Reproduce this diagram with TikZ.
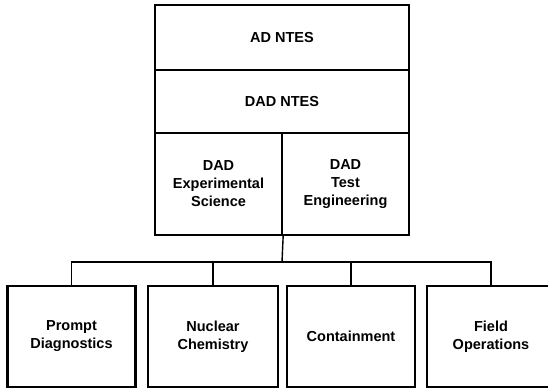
\documentclass[tikz,border=0pt]{standalone}
\usepackage{fontspec}
\setmainfont{Liberation Sans}
\begin{document}
\begin{tikzpicture}[x=1pt,y=1pt,
  box/.style={draw=black, line width=2.3pt, rectangle, inner sep=0pt, align=center,
    font=\bfseries\fontsize{14.5}{18}\selectfont},
  conn/.style={draw=black, line width=1.4pt}]
\useasboundingbox (0,0) rectangle (548,-389);
\clip (0,0) rectangle (548,-389);
\node[box, minimum width=254pt, minimum height=65pt] (ad) at (282,-37.5) {AD NTES};
\node[box, minimum width=254pt, minimum height=63pt] (dad) at (282,-101.5) {DAD NTES};
\node[box, minimum width=127pt, minimum height=102pt] (exp) at (218.5,-184) {DAD\\Experimental\\Science};
\node[box, minimum width=127pt, minimum height=102pt] (test) at (345.5,-184) {DAD\\Test\\Engineering};
\node[box, minimum width=128pt, minimum height=101pt] (pd) at (71.5,-336.5) {Prompt\\Diagnostics};
\node[box, minimum width=130pt, minimum height=101pt] (nc) at (213,-336.5) {Nuclear\\Chemistry};
\node[box, minimum width=128pt, minimum height=101pt] (co) at (351,-336.5) {Containment};
\node[box, minimum width=128pt, minimum height=101pt] (fo) at (491,-336.5) {Field\\Operations};
\coordinate (bus) at (282,-262);
\draw[conn] (exp.south east) -- (bus);
\draw[conn] (pd.north) |- (bus) -| (fo.north);
\draw[conn] (nc.north) -- (nc.north |- bus);
\draw[conn] (co.north) -- (co.north |- bus);
\end{tikzpicture}
\end{document}
